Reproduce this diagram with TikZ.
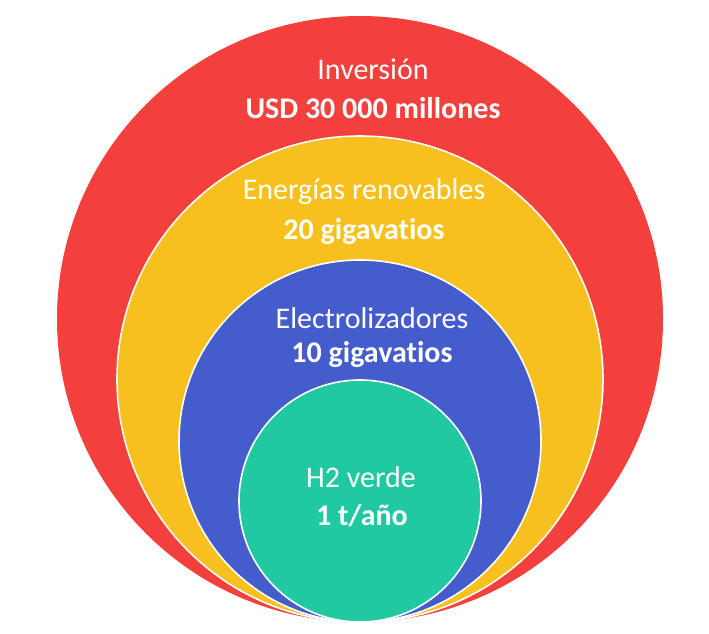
\documentclass[tikz,border=0pt]{standalone}
\usepackage{fontspec}
\setmainfont{Carlito}[Ligatures={NoCommon}]
\definecolor{cred}{RGB}{243,64,61}
\definecolor{cyellow}{RGB}{246,193,31}
\definecolor{cblue}{RGB}{69,93,204}
\definecolor{cgreen}{RGB}{32,201,162}
\begin{document}
\begin{tikzpicture}[x=1pt,y=-1pt,
  ring/.style={circle,inner sep=0pt,outer sep=0pt,draw=white,line width=1.6pt},
  lbl/.style={text=white,font=\fontsize{30}{34}\selectfont,inner sep=0pt,anchor=base},
  lblb/.style={lbl,font=\fontsize{30}{34}\selectfont\bfseries}]
\useasboundingbox (0,0) rectangle (709,634);
\node[ring,fill=cred,draw=none,minimum size=606pt] (red) at (360,319) {};
\node[ring,fill=cyellow,minimum size=486pt] (yellow) at (360,379) {};
\node[ring,fill=cblue,minimum size=362pt] (blue) at (360,441) {};
\node[ring,fill=cgreen,minimum size=242pt] (green) at (360,501) {};
\node[lbl] (t1) at (373,79) {Inversión};
\node[lblb] (t2) at (373,118) {USD 30 000 millones};
\node[lbl] (t3) at (364,199) {Energías renovables};
\node[lblb] (t4) at (364,239) {20 gigavatios};
\node[lbl] (t5) at (372,328) {Electrolizadores};
\node[lblb] (t6) at (372,362) {10 gigavatios};
\node[lbl] (t7) at (361,487) {H2 verde};
\node[lblb] (t8) at (362,525) {1 t/año};
\end{tikzpicture}
\end{document}
